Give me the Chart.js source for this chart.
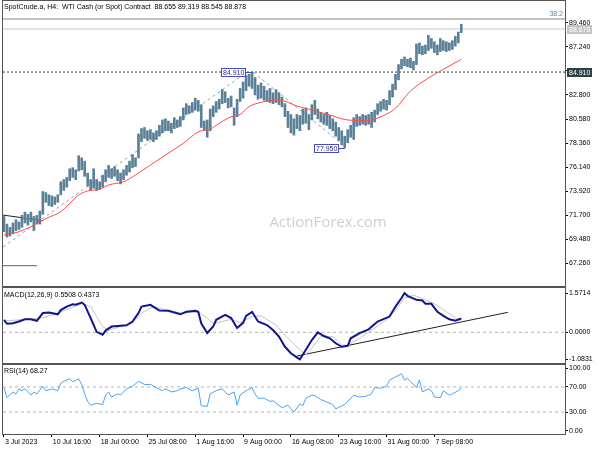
<!DOCTYPE html>
<html>
<head>
<meta charset="utf-8">
<script src="https://cdn.jsdelivr.net/npm/chart.js@4"></script>
<style>
  body { margin: 0; background: #fff; }
  #wrap { position: relative; width: 600px; height: 450px; }
  #wrap canvas { position: absolute; left: 0; top: 0; }
</style>
</head>
<body>
<div id="wrap">
  <canvas id="priceChart" width="600" height="450"></canvas>
  <canvas id="macdChart" width="600" height="450"></canvas>
  <canvas id="rsiChart" width="600" height="450"></canvas>
</div>
<script>
// last quote: open, high, low, close
const quote = [88.655, 89.319, 88.545, 88.878];

const labelBars = [0, 16, 32, 48, 64, 80, 96, 112, 128, 144];
const dateLabels = ['3 Jul 2023', '10 Jul 16:00', '18 Jul 00:00', '25 Jul 08:00', '1 Aug 16:00',
  '9 Aug 00:00', '16 Aug 08:00', '23 Aug 16:00', '31 Aug 00:00', '7 Sep 08:00'];

// H4 bars, one entry per bar
const highs = [71.6, 70.9, 70.6, 71.0, 71.3, 71.1, 71.7, 72.0, 71.8, 72.0,
  71.6, 71.7, 72.1, 73.9, 73.8, 73.6, 73.5, 73.4, 73.6, 74.8,
  75.0, 75.2, 76.0, 76.1, 75.9, 77.2, 77.0, 76.7, 75.6, 75.0,
  76.0, 75.0, 74.8, 75.4, 75.9, 76.3, 76.0, 76.2, 75.9, 75.6,
  75.9, 76.3, 76.7, 77.3, 77.0, 79.2, 79.7, 79.8, 79.5, 79.6,
  79.3, 79.5, 80.0, 80.5, 80.6, 80.4, 80.2, 80.7, 80.5, 80.8,
  81.6, 82.0, 81.8, 82.1, 82.5, 82.3, 81.9, 80.4, 80.5, 81.5,
  81.8, 82.2, 82.4, 83.3, 83.1, 82.5, 82.7, 81.6, 82.4, 83.4,
  84.0, 84.6, 84.7, 84.91, 84.4, 83.7, 83.9, 83.6, 83.2, 83.4,
  83.0, 83.3, 83.0, 82.6, 82.0, 81.3, 81.0, 80.6, 81.0, 80.9,
  81.5, 81.6, 81.0, 81.9, 82.3, 81.5, 81.2, 81.0, 81.2, 80.9,
  80.6, 80.3, 79.8, 79.5, 79.0, 79.6, 80.0, 80.7, 81.0, 80.8,
  81.0, 80.9, 81.0, 81.2, 81.4, 82.0, 82.2, 82.4, 82.3, 83.2,
  83.8, 84.7, 85.6, 86.1, 86.3, 86.1, 86.2, 85.9, 87.5, 87.6,
  87.3, 87.4, 88.3, 88.0, 87.7, 87.4, 88.0, 87.8, 87.7, 87.6,
  87.8, 88.2, 88.6, 89.319];
const lows = [70.2, 69.7, 69.8, 70.0, 70.3, 70.4, 70.6, 71.0, 70.8, 71.1,
  70.3, 70.9, 70.9, 71.8, 72.9, 72.6, 72.5, 72.7, 72.9, 73.6,
  74.0, 74.3, 74.9, 75.2, 75.0, 75.8, 75.9, 75.3, 74.4, 74.0,
  74.2, 74.0, 74.1, 74.3, 74.8, 75.2, 75.1, 75.3, 74.9, 74.6,
  75.0, 75.4, 75.7, 76.1, 76.2, 77.0, 78.5, 78.8, 78.6, 78.7,
  78.5, 78.7, 79.0, 79.3, 79.5, 79.5, 79.3, 79.7, 79.8, 79.9,
  80.5, 81.0, 81.1, 81.2, 81.4, 81.3, 79.8, 79.6, 78.9, 79.5,
  80.8, 81.2, 81.5, 82.0, 82.1, 81.6, 81.7, 80.0, 80.8, 82.2,
  82.5, 83.2, 83.6, 83.4, 82.8, 82.4, 82.5, 82.3, 82.2, 82.1,
  82.0, 82.1, 81.9, 81.7, 80.8, 79.8, 79.3, 79.1, 79.7, 79.5,
  80.1, 80.2, 79.6, 80.5, 81.0, 80.6, 80.3, 80.1, 80.0, 79.7,
  79.5, 79.0, 78.6, 78.2, 77.95, 78.4, 78.9, 78.7, 79.9, 80.0,
  80.1, 80.0, 80.1, 79.8, 80.3, 81.0, 81.3, 81.5, 81.4, 81.9,
  82.6, 83.3, 84.2, 85.2, 85.5, 85.4, 85.3, 85.1, 85.6, 86.6,
  86.5, 86.6, 86.9, 87.1, 86.7, 86.5, 86.8, 86.9, 86.8, 86.9,
  87.0, 87.3, 87.6, 88.545];

// moving average (red)
const maBar = [0, 2, 5, 9, 12, 15, 19, 22, 25, 28, 32, 35, 40, 44, 49, 54, 60, 65, 69, 72,
  76, 79, 82, 86, 92, 98, 103, 109, 114, 120, 123, 128, 131, 136, 142, 146, 153];
const maVal = [69.89, 69.98, 70.19, 70.66, 71.12, 71.52, 72.04, 72.81, 73.58, 73.95,
  74.10, 74.50, 74.80, 75.42, 76.34, 77.26, 78.34, 79.40, 79.65, 80.18,
  80.79, 81.00, 81.72, 82.12, 82.33, 81.78, 81.41, 80.95, 80.54, 80.43,
  80.49, 81.04, 81.57, 83.16, 84.36, 85.01, 86.08];

const priceTicks = [67.26, 69.48, 71.70, 73.92, 76.14, 78.36, 80.58, 82.80, 85.02, 87.24, 89.46];

// drawn objects on the price panel
const swingHigh = 84.91, swingHighBar = 83;
const swingLow = 77.95, swingLowBar = 114;
const fibLevel = 89.80, fibText = '38.2';
const trendABar = [-0.33, 81.3], trendAVal = [68.79, 84.91];
const trendBBar = [83.3, 114.6], trendBVal = [84.91, 77.95];
const trendCBar = [-0.33, 13], trendCVal = [71.73, 71.21];
const markDBar = [-0.33, 11], markDVal = [67.06, 67.06];

// MACD(12,26,9)
const macdBar = [0, 1, 3, 5, 7, 9, 11, 13, 15, 18, 19, 21, 23, 24, 26, 27, 29, 31, 33, 34,
  36, 39, 41, 43, 45, 46, 49, 52, 55, 59, 61, 64, 65, 66, 68, 70, 71, 74, 76, 78,
  80, 81, 83, 85, 88, 90, 92, 94, 96, 98, 99, 101, 103, 105, 107, 109, 111, 113, 115, 116,
  119, 122, 125, 129, 131, 133, 134, 135, 138, 140, 141, 143, 145, 147, 149, 151, 153];
const macdVal = [0.50, 0.34, 0.36, 0.43, 0.52, 0.52, 0.46, 0.77, 0.79, 0.72,
  0.89, 1.03, 1.12, 1.10, 1.19, 1.10, 0.57, 0.02, -0.10, 0.07,
  0.23, 0.26, 0.28, 0.43, 0.77, 1.03, 1.10, 0.87, 0.86, 0.72,
  0.82, 0.86, 0.82, 0.36, -0.03, 0.23, 0.50, 0.70, 0.57, 0.17,
  0.38, 0.66, 0.82, 0.43, 0.29, 0.09, -0.17, -0.58, -0.84, -1.0,
  -1.0831, -0.70, -0.31, 0.00, -0.15, -0.24, -0.44, -0.58, -0.54, -0.24,
  -0.03, 0.12, 0.43, 0.63, 1.03, 1.37, 1.5714, 1.46, 1.30, 1.27,
  1.14, 1.14, 0.82, 0.66, 0.52, 0.46, 0.5508];
const sigBar = [0, 13, 18, 22, 26, 29, 31, 33, 35, 39, 43, 46, 50, 53, 59, 65, 68, 70, 73, 76,
  79, 83, 86, 91, 95, 99, 101, 103, 106, 110, 113, 115, 119, 123, 128, 132, 134, 137, 141, 144,
  148, 151, 153];
const sigVal = [0.45, 0.57, 0.77, 0.96, 1.14, 1.03, 0.63, 0.23, 0.08, 0.23,
  0.36, 0.77, 1.03, 0.93, 0.77, 0.81, 0.57, 0.34, 0.43, 0.52,
  0.38, 0.63, 0.66, 0.29, -0.24, -0.70, -0.90, -0.63, -0.17, -0.17,
  -0.51, -0.51, -0.24, 0.09, 0.50, 1.03, 1.37, 1.49, 1.30, 1.14,
  0.82, 0.59, 0.4373];
const macdTrendBar = [98, 168.6], macdTrendVal = [-0.95, 0.80];
const macdTicks = [-1.0831, 0, 1.5714];

// RSI(14)
const rsiBar = [0, 1, 3, 4, 5, 6, 7, 9, 10, 11, 13, 14, 16, 18, 19, 20, 22, 23, 25, 26,
  27, 28, 29, 31, 33, 34, 35, 36, 38, 39, 41, 43, 45, 47, 49, 51, 53, 54, 56, 58,
  59, 61, 63, 65, 66, 68, 69, 71, 73, 75, 77, 78, 79, 81, 83, 84, 85, 87, 89, 90,
  93, 95, 97, 99, 100, 101, 103, 104, 106, 108, 110, 111, 113, 114, 116, 117, 119, 121, 123, 124,
  126, 128, 129, 131, 133, 134, 135, 136, 138, 139, 140, 142, 143, 144, 146, 147, 149, 150, 152, 153];
const rsiVal = [69, 53, 62, 59, 67, 64, 67, 57, 62, 59, 71, 64, 67, 64, 76, 79, 83, 78, 83, 74,
  59, 47, 41, 44, 42, 57, 62, 54, 59, 57, 67, 71, 79, 74, 74, 69, 64, 67, 62, 64,
  67, 69, 64, 68, 40, 39, 59, 64, 67, 57, 62, 41, 57, 64, 69, 59, 52, 52, 47, 48,
  37, 41, 30, 43, 40, 52, 57, 56, 50, 46, 42, 35, 40, 42, 52, 57, 54, 55, 59, 69,
  68, 71, 81, 86, 91, 81, 84, 79, 69, 81, 62, 67, 64, 54, 53, 64, 57, 59, 64, 68.27];
const rsiTicks = [0, 30, 70, 100];
const rsiLevels = [30, 70];

const X_MIN = -0.33, X_MAX = 187.7;

Chart.defaults.font.family = 'Liberation Sans';
Chart.defaults.font.size = 7;
Chart.defaults.color = '#000';

const pts = (bars, vals) => bars.map((b, i) => ({ x: b, y: vals[i] }));
const flat = v => pts([X_MIN, X_MAX], [v, v]);

function line(data, color, extra) {
  return Object.assign({ type: 'line', data, borderColor: color, borderWidth: 1,
    pointRadius: 0, fill: false, tension: 0 }, extra || {});
}

function xScale(show) {
  return {
    type: 'linear', min: X_MIN, max: X_MAX, display: show, offset: false,
    afterBuildTicks: s => { s.ticks = labelBars.map(v => ({ value: v })); },
    afterFit: s => {
      if (s.options.display) s.height = 16;
      s.paddingLeft = 0; s.paddingRight = 0;
    },
    ticks: { callback: (v, i) => dateLabels[i], align: 'start', maxRotation: 0,
      autoSkip: false, padding: 1, labelOffset: 1 },
    grid: { drawOnChartArea: false, tickLength: 3, color: '#000', offset: false },
    border: { color: '#000' }
  };
}

function yScale(min, max, ticks, digits) {
  return {
    position: 'right', min, max,
    afterBuildTicks: s => { s.ticks = ticks.map(v => ({ value: v })); },
    afterFit: s => { s.width = 35; s.paddingTop = 0; s.paddingBottom = 0; },
    ticks: { callback: v => v.toFixed(digits), autoSkip: false, padding: 1 },
    grid: { drawOnChartArea: false, tickLength: 3, color: '#000' },
    border: { color: '#000' }
  };
}

function options(padding, showX, y, captions) {
  return {
    responsive: false, animation: false, devicePixelRatio: 1, events: [],
    layout: { padding },
    scales: { x: xScale(showX), y },
    plugins: { legend: { display: false }, tooltip: { enabled: false }, captions }
  };
}

const frame = {
  id: 'frame',
  afterDraw(chart) {
    const { ctx, chartArea: a } = chart;
    ctx.save();
    ctx.strokeStyle = '#555';
    ctx.lineWidth = 1;
    ctx.strokeRect(a.left - 0.5, a.top - 0.5, a.right - a.left + 1, a.bottom - a.top + 1);
    ctx.restore();
  }
};

const captions = {
  id: 'captions',
  afterDraw(chart, args, opts) {
    const ctx = chart.ctx;
    ctx.save();
    ctx.font = '7px "Liberation Sans"';
    ctx.fillStyle = '#000';
    ctx.textAlign = 'left';
    ctx.textBaseline = 'middle';
    (opts.items || []).forEach(it => ctx.fillText(it.text, it.x, it.y));
    ctx.restore();
  }
};

function tag(ctx, text, edge, cy, side, fill, stroke, color) {
  ctx.font = '7px "Liberation Sans"';
  const w = Math.round(ctx.measureText(text).width) + 4, h = 9;
  const left = side === 'right' ? edge - w : edge;
  const top = cy - 4.5;
  ctx.fillStyle = fill;
  ctx.fillRect(left, top, w, h);
  if (stroke) {
    ctx.strokeStyle = stroke;
    ctx.strokeRect(left + 0.5, top + 0.5, w - 1, h - 1);
  }
  ctx.fillStyle = color;
  ctx.textAlign = 'left';
  ctx.textBaseline = 'middle';
  ctx.fillText(text, left + 2, cy + 0.5);
}

const priceDeco = {
  id: 'priceDeco',
  beforeDatasetsDraw(chart) {
    const ctx = chart.ctx;
    ctx.save();
    ctx.font = '15px "Open Sans"';
    ctx.fillStyle = '#cfcfcf';
    ctx.textAlign = 'center';
    ctx.textBaseline = 'middle';
    ctx.fillText('ActionForex.com', 328, 223);
    ctx.restore();
  },
  afterDraw(chart) {
    const { ctx, scales: { x, y } } = chart;
    ctx.save();
    [[swingHigh, swingHighBar], [swingLow, swingLowBar]].forEach(([v, bar]) => {
      const px = Math.round(x.getPixelForValue(bar));
      const py = Math.round(y.getPixelForValue(v)) + 0.5;
      ctx.strokeStyle = '#4b4bb8';
      ctx.beginPath();
      ctx.moveTo(px - 6, py);
      ctx.lineTo(px, py);
      ctx.stroke();
      tag(ctx, v.toFixed(3), px - 6, py, 'right', '#fff', '#4b4bb8', '#2b2b9c');
    });
    tag(ctx, swingHigh.toFixed(3), 567, Math.round(y.getPixelForValue(swingHigh)) + 0.5, 'left', '#2e4246', null, '#fff');
    tag(ctx, quote[3].toFixed(3), 567, Math.round(y.getPixelForValue(quote[3])) + 0.5, 'left', '#c4c4c4', null, '#fff');
    ctx.font = '7px "Liberation Sans"';
    ctx.fillStyle = '#5f8a9a';
    ctx.textAlign = 'right';
    ctx.textBaseline = 'middle';
    ctx.fillText(fibText, 563, y.getPixelForValue(fibLevel) - 5);
    ctx.restore();
  }
};

new Chart(document.getElementById('priceChart'), {
  type: 'bar',
  data: {
    datasets: [
      line(pts(maBar, maVal), '#ff4a4a', { cubicInterpolationMode: 'monotone' }),
      { type: 'bar', data: highs.map((h, i) => ({ x: i, y: [lows[i], h] })),
        backgroundColor: '#5b8198', barThickness: 2, borderWidth: 0 },
      line(flat(swingHigh), '#3c3c3c', { borderDash: [2, 2] }),
      line(pts(trendABar, trendAVal), '#98a4a4', { borderDash: [3, 3] }),
      line(pts(trendBBar, trendBVal), '#98a4a4', { borderDash: [3, 3] }),
      line(pts(trendCBar, trendCVal), '#202020'),
      line(pts(markDBar, markDVal), '#606060'),
      line(flat(fibLevel), '#7d8b92'),
      line(flat(quote[3]), '#c8c8c8')
    ]
  },
  options: options({ left: 3, right: 0, top: 1, bottom: 164 }, false,
    yScale(65.19, 91.46, priceTicks, 3),
    { items: [{ text: 'SpotCrude.a, H4:  WTI Cash (or Spot) Contract  ' + quote.map(q => q.toFixed(3)).join(' '), x: 4, y: 7 }] }),
  plugins: [priceDeco, frame, captions]
});

new Chart(document.getElementById('macdChart'), {
  type: 'line',
  data: {
    datasets: [
      line(pts(macdBar, macdVal), '#14148f', { borderWidth: 2 }),
      line(pts(sigBar, sigVal), '#c4c4c4'),
      line(pts(macdTrendBar, macdTrendVal), '#202020'),
      line(flat(0), '#b4b4b4', { borderDash: [3, 3] })
    ]
  },
  options: options({ left: 3, right: 0, top: 288, bottom: 87 }, false,
    yScale(-1.228, 1.772, macdTicks, 4),
    { items: [{ text: 'MACD(12,26,9) ' + macdVal[macdVal.length - 1].toFixed(4) + ' ' + sigVal[sigVal.length - 1].toFixed(4), x: 4, y: 295 }] }),
  plugins: [frame, captions]
});

new Chart(document.getElementById('rsiChart'), {
  type: 'line',
  data: {
    datasets: [
      line(pts(rsiBar, rsiVal), '#4aa3f5'),
      ...rsiLevels.map(v => line(flat(v), '#b4b4b4', { borderDash: [3, 3] }))
    ]
  },
  options: options({ left: 3, right: 0, top: 365, bottom: 0 }, true,
    yScale(-5, 105, rsiTicks, 2),
    { items: [{ text: 'RSI(14) ' + rsiVal[rsiVal.length - 1].toFixed(2), x: 4, y: 371 }] }),
  plugins: [frame, captions]
});
</script>
</body>
</html>
